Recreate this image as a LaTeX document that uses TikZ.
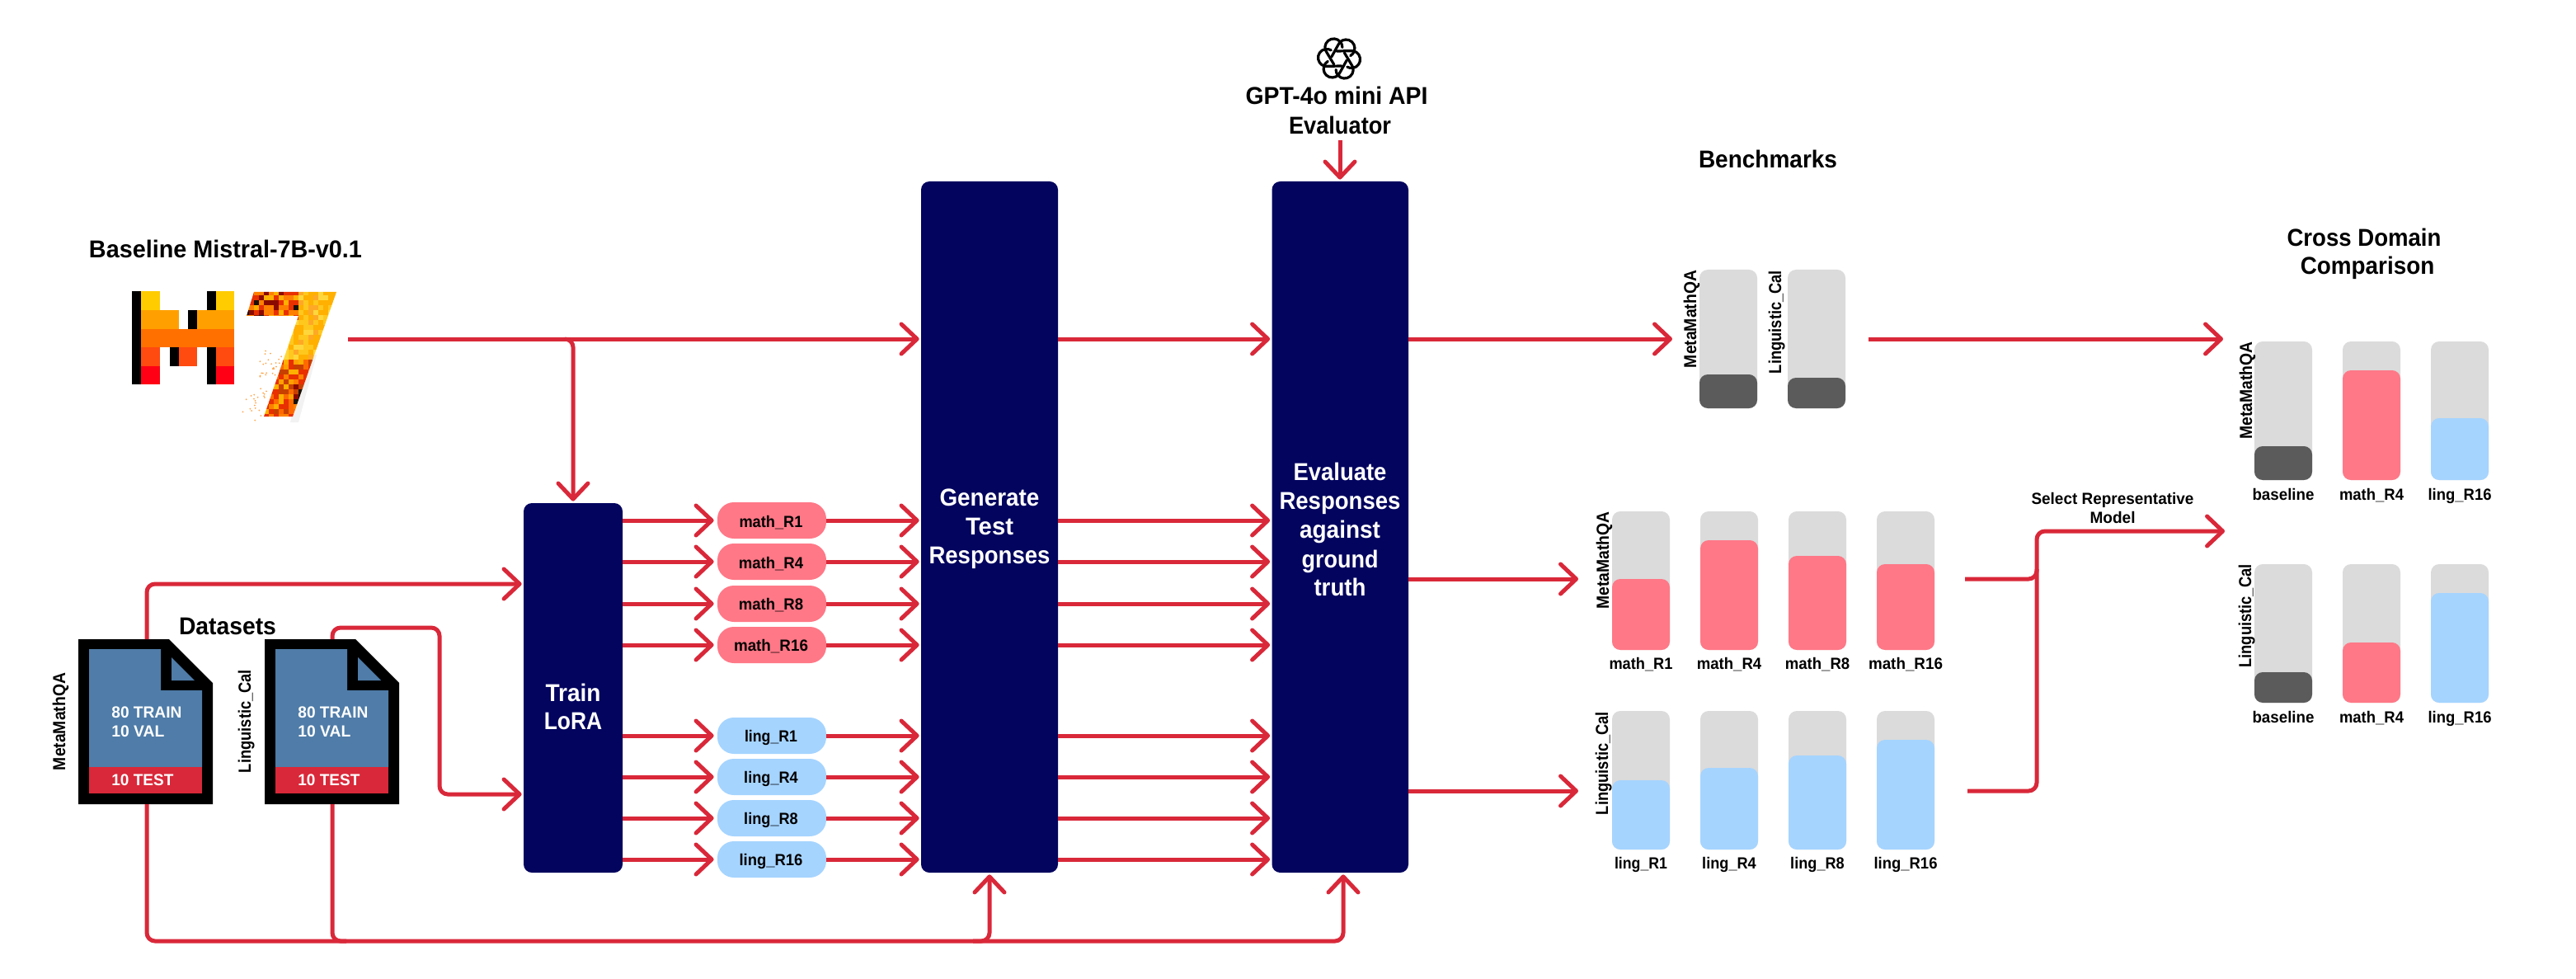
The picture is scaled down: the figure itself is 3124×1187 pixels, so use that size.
\documentclass[tikz,border=0pt]{standalone}
\usepackage{fontspec}
\usepackage{graphicx}
\setmainfont{Liberation Sans}
\usetikzlibrary{arrows.meta}
\definecolor{rd}{HTML}{D92839}
\definecolor{navy}{HTML}{03045E}
\definecolor{pinkf}{HTML}{FF7887}
\definecolor{bluef}{HTML}{A5D4FF}
\definecolor{grayb}{HTML}{DBDBDB}
\definecolor{darkb}{HTML}{5B5B5B}
\definecolor{docb}{HTML}{4F7CA8}
\definecolor{myl}{HTML}{FFCC00}
\definecolor{mor}{HTML}{FFA000}
\definecolor{mdo}{HTML}{FF7000}
\definecolor{mro}{HTML}{FF4A10}
\definecolor{mrd}{HTML}{FF0014}
\definecolor{sa}{HTML}{8B0A00}
\definecolor{sb}{HTML}{E83000}
\definecolor{sc}{HTML}{FF8000}
\definecolor{sd}{HTML}{FFB000}
\definecolor{se}{HTML}{1A1208}
\definecolor{sf}{HTML}{FFC81E}
\definecolor{sg}{HTML}{FFD73C}
\definecolor{sh}{HTML}{FFA826}
\definecolor{si}{HTML}{FF6A00}
\definecolor{sj}{HTML}{C84000}
\newdimen\pxu \pxu=0.5pt
\newcommand\fw[2]{\resizebox{#1\pxu}{\height}{#2}}
\newcommand\onebar[5]{%
  \fill[grayb,rounded corners=5pt] (#1,#2) rectangle ++(70,#3-#2);
  \fill[#5,rounded corners=5pt] (#1,#4) rectangle ++(70,#3-#4);}
\newcommand\docshape[1]{%
  \begin{scope}[shift={(#1,0)}]
    \fill[black] (95,775) -- (205,775) -- (258,828) -- (258,975) -- (95,975) -- cycle;
    \fill[docb] (108,787) -- (195,787) -- (195,837) -- (245,837) -- (245,930) -- (108,930) -- cycle;
    \fill[docb] (208,797) -- (208,825) -- (236,825) -- cycle;
    \fill[rd] (108,930) rectangle (245,962);
  \end{scope}}
\pgfmathdeclarerandomlist{sevtl}{{sa}{sb}{sc}{sd}{se}{sc}{sb}{sd}}
\pgfmathdeclarerandomlist{sevtr}{{sd}{sf}{sh}{sd}{sg}}
\pgfmathdeclarerandomlist{sevmid}{{sf}{sg}{sd}{sh}{sf}{sd}}
\pgfmathdeclarerandomlist{sevlow}{{si}{sc}{sb}{mor}{si}{sd}{sb}{sj}}
\pgfmathdeclarerandomlist{sevdark}{{se}{sj}{se}{sa}}
\tikzset{
  conn/.style={draw=rd,line width=2.5pt,rounded corners=5pt},
  arr/.style={conn,-{Straight Barb[length=9.5pt,width=18pt,line width=2.5pt,round]},shorten >=1pt},
  procbox/.style={fill=navy,rounded corners=5pt,inner sep=0pt,minimum height=224pt},
  pillm/.style={fill=pinkf,rounded corners=10pt,minimum width=66pt,minimum height=22pt,inner sep=0pt},
  pilll/.style={pillm,fill=bluef},
  head/.style={inner sep=0pt,anchor=base,font=\bfseries\fontsize{14.8}{17}\selectfont},
  inbox/.style={head,text=white},
  small/.style={inner sep=0pt,anchor=base,font=\bfseries\fontsize{9.8}{12}\selectfont},
  docnum/.style={small,anchor=base west,text=white},
  vert/.style={inner sep=0pt,anchor=base,rotate=90,font=\bfseries\fontsize{10.6}{12}\selectfont},
}
\begin{document}
\begin{tikzpicture}[x=0.5pt,y=-0.5pt]
\useasboundingbox (0,0) rectangle (3124,1187);

% process boxes
\node[procbox,minimum width=60pt] (train) at (695,834) {};
\node[procbox,minimum width=83pt,minimum height=419pt] (gen) at (1200,639) {};
\node[procbox,minimum width=82.75pt,minimum height=419pt] (eval) at (1625.25,639) {};

% model pills
\node[pillm] (m1) at (936,631) {};
\node[pillm] (m4) at (936,681) {};
\node[pillm] (m8) at (936,732) {};
\node[pillm] (m16) at (936,782) {};
\node[pilll] (l1) at (936,892) {};
\node[pilll] (l4) at (936,942) {};
\node[pilll] (l8) at (936,992) {};
\node[pilll] (l16) at (936,1042) {};
\node[small] (tm1) at (935,639) {\fw{77}{math\_R1}};
\node[small] (tm4) at (935,689) {\fw{78.5}{math\_R4}};
\node[small] (tm8) at (935,739) {\fw{78.5}{math\_R8}};
\node[small] (tm16) at (935,789) {\fw{90}{math\_R16}};
\node[small] (tl1) at (935,899) {\fw{64}{ling\_R1}};
\node[small] (tl4) at (935,949) {\fw{65.6}{ling\_R4}};
\node[small] (tl8) at (935,999) {\fw{65.6}{ling\_R8}};
\node[small] (tl16) at (935,1049) {\fw{77}{ling\_R16}};

% box texts
\node[inbox] (t1) at (695,850) {\fw{67}{Train}};
\node[inbox] (t2) at (695,884) {\fw{70.5}{LoRA}};
\node[inbox] (g1) at (1200,613) {\fw{121}{Generate}};
\node[inbox] (g2) at (1200,648) {\fw{58}{Test}};
\node[inbox] (g3) at (1200,683) {\fw{147}{Responses}};
\node[inbox] (e1) at (1625,582) {\fw{113}{Evaluate}};
\node[inbox] (e2) at (1625,617) {\fw{147}{Responses}};
\node[inbox] (e3) at (1625,652) {\fw{98}{against}};
\node[inbox] (e4) at (1625,688) {\fw{93}{ground}};
\node[inbox] (e5) at (1625,722) {\fw{63}{truth}};

% headings
\node[head] (hbase) at (273.5,313) {\fw{331}{Baseline Mistral-7B-v0.1}};
\node[head] (hdata) at (276,769) {\fw{118}{Datasets}};
\node[head] (hgpt) at (1621,127) {\fw{221}{GPT-4o mini API}};
\node[head] (hevl) at (1625,163) {\fw{124}{Evaluator}};
\node[head] (hbench) at (2144,204) {\fw{168}{Benchmarks}};
\node[head] (hcd) at (2867,299) {\fw{187}{Cross Domain}};
\node[head] (hcmp) at (2871,333) {\fw{162.5}{Comparison}};
\node[small] (sel1) at (2562,611) {\fw{197}{Select Representative}};
\node[small] (sel2) at (2562,634) {\fw{55}{Model}};

% Mistral logo: pixel M
\fill[black] (160,353.3) rectangle (171.2,466.3);
\fill[myl] (171.2,353.3) rectangle (194,376);
\fill[black] (250.6,353.3) rectangle (261.8,376);
\fill[myl] (261.8,353.3) rectangle (284,376);
\fill[mor] (171.2,376) rectangle (216.7,398.7);
\fill[black] (227.9,376) rectangle (239.4,398.7);
\fill[mor] (239.4,376) rectangle (284,398.7);
\fill[mdo] (171.2,398.7) rectangle (284,421.3);
\fill[mro] (171.2,421.3) rectangle (194,443.7);
\fill[black] (205.5,421.3) rectangle (216.7,443.7);
\fill[mro] (216.7,421.3) rectangle (239.4,443.7);
\fill[black] (250.6,421.3) rectangle (261.8,466.3);
\fill[mro] (261.8,421.3) rectangle (284,443.7);
\fill[mrd] (171.2,443.7) rectangle (194,466.3);
\fill[mrd] (261.8,443.7) rectangle (284,466.3);

% Mistral logo: pixelated 7
\fill[black,opacity=0.05] (372,430) -- (352,512) -- (362,512) -- (384,430) -- cycle;
\pgfmathsetseed{11}
\foreach \k in {1,...,45}{
  \pgfmathsetmacro\sy{425+rnd*90}
  \pgfmathsetmacro\sx{362-(\sy-383)*42/122-2-rnd*28}
  \fill[sc,opacity=0.7] (\sx,\sy) circle[radius=1];
}
\begin{scope}
  \clip (308,354) -- (408,354) -- (355,505) -- (320,505) -- (362,383) -- (299,383) -- cycle;
  \foreach \i in {0,...,18}{
    \foreach \j in {0,...,26}{
      \pgfmathtruncatemacro\px{296+6*\i}
      \pgfmathtruncatemacro\py{352+6*\j}
      \ifnum\py<383
        \ifnum\px<362 \pgfmathrandomitem{\c}{sevtl}\else \pgfmathrandomitem{\c}{sevtr}\fi
      \else
        \ifnum\py<432 \pgfmathrandomitem{\c}{sevmid}\else
          \pgfmathrandomitem{\c}{sevlow}
          \ifnum\py>464 \ifnum\py<490 \ifnum\px>350 \pgfmathrandomitem{\c}{sevdark}\fi\fi\fi
        \fi
      \fi
      \fill[\c] (\px,\py) rectangle ++(6.3,6.3);
    }
  }
\end{scope}

% OpenAI logo
\begin{scope}[shift={(1624,71)}]
  \foreach \k in {0,60,...,300}{
    \draw[black,line width=1.6pt,line cap=round,rotate=\k]
      (-3,-9) -- (13.2,-9.3) arc[start angle=-100,end angle=120,radius=10.5];
  }
\end{scope}

% dataset documents
\docshape{0}
\docshape{226}
\node[docnum] (a1) at (135,870) {\fw{85}{80 TRAIN}};
\node[docnum] (a2) at (135,893) {\fw{64}{10 VAL}};
\node[docnum] (a3) at (135,952) {\fw{75}{10 TEST}};
\node[docnum] (b1) at (361,870) {\fw{85}{80 TRAIN}};
\node[docnum] (b2) at (361,893) {\fw{64}{10 VAL}};
\node[docnum] (b3) at (361,952) {\fw{75}{10 TEST}};
\node[vert] (va) at (79,875) {\fw{118}{MetaMathQA}};
\node[vert] (vb) at (304,874.5) {\fw{125}{Linguistic\_Cal}};

% benchmark bars
\onebar{2061}{327}{495}{454}{darkb}
\onebar{2168}{327}{495}{458}{darkb}
\node[vert] (vc) at (2057,387) {\fw{118}{MetaMathQA}};
\node[vert] (vd) at (2160,390.5) {\fw{125}{Linguistic\_Cal}};

\onebar{1955}{620}{788}{702}{pinkf}
\onebar{2062}{620}{788}{655}{pinkf}
\onebar{2169}{620}{788}{674}{pinkf}
\onebar{2276}{620}{788}{684}{pinkf}
\node[vert] (ve) at (1951,679.5) {\fw{118}{MetaMathQA}};
\node[small] (la1) at (1990,811) {\fw{77}{math\_R1}};
\node[small] (la2) at (2097,811) {\fw{78.5}{math\_R4}};
\node[small] (la3) at (2204,811) {\fw{78.5}{math\_R8}};
\node[small] (la4) at (2311,811) {\fw{90}{math\_R16}};

\onebar{1955}{862}{1030}{946}{bluef}
\onebar{2062}{862}{1030}{931}{bluef}
\onebar{2169}{862}{1030}{916}{bluef}
\onebar{2276}{862}{1030}{897}{bluef}
\node[vert] (vf) at (1950,925.5) {\fw{125}{Linguistic\_Cal}};
\node[small] (lb1) at (1990,1053) {\fw{64}{ling\_R1}};
\node[small] (lb2) at (2097,1053) {\fw{65.6}{ling\_R4}};
\node[small] (lb3) at (2204,1053) {\fw{65.6}{ling\_R8}};
\node[small] (lb4) at (2311,1053) {\fw{77}{ling\_R16}};

% cross domain bars
\onebar{2734}{414}{582}{541}{darkb}
\onebar{2841}{414}{582}{449}{pinkf}
\onebar{2948}{414}{582}{507}{bluef}
\node[vert] (vg) at (2731,473.5) {\fw{118}{MetaMathQA}};
\node[small] (lc1) at (2769,606) {\fw{75}{baseline}};
\node[small] (lc2) at (2876,606) {\fw{78}{math\_R4}};
\node[small] (lc3) at (2983,606) {\fw{77}{ling\_R16}};

\onebar{2734}{684}{852}{815}{darkb}
\onebar{2841}{684}{852}{779}{pinkf}
\onebar{2948}{684}{852}{719}{bluef}
\node[vert] (vh) at (2730,747) {\fw{125}{Linguistic\_Cal}};
\node[small] (ld1) at (2769,876) {\fw{75}{baseline}};
\node[small] (ld2) at (2876,876) {\fw{78}{math\_R4}};
\node[small] (ld3) at (2983,876) {\fw{77}{ling\_R16}};

% named free ends
\coordinate (mistral) at (422,411);
\coordinate (mbranch) at (695,411);
\coordinate (d1t) at (178,775);
\coordinate (d1b) at (178,975);
\coordinate (d2t) at (403,775);
\coordinate (d2b) at (403,975);
\coordinate (gptin) at (1625,170);
\coordinate (benchin) at (2030,411);
\coordinate (benchout) at (2266,411);
\coordinate (crossin) at (2698,411);
\coordinate (mathin) at (1916,702);
\coordinate (lingin) at (1916,959);
\coordinate (mathout) at (2383,702);
\coordinate (lingout) at (2386,959);
\coordinate (selend) at (2700,644);
\coordinate (selx) at (2470,644);

% connectors
\draw[arr] (mistral) -- (gen.west |- mistral);
\draw[arr] (685,411) -- (mbranch) -- (train.north);
\draw[arr] (gen.east |- mistral) -- (eval.west |- mistral);
\draw[arr] (d1t) |- (train.west |- 0,708);
\draw[arr] (d2t) -- (403,761) -- (533,761) -- (533,963) -- (train.west |- 0,963);
\foreach \n in {m1,m4,m8,m16,l1,l4,l8,l16}{
  \draw[arr,shorten >=2pt] (train.east |- \n.west) -- (\n.west);
  \draw[arr] (\n.east) -- (gen.west |- \n.east);
  \draw[arr] (gen.east |- \n.east) -- (eval.west |- \n.east);
}
\draw[arr] (gptin) -- (eval.north -| gptin);
\draw[arr] (d1b) -- (178,1141) -- (1629,1141) -- (eval.south -| 1629,0);
\draw[conn] (d2b) -- (403,1141) -- (420,1141);
\draw[arr] (1180,1141) -- (1200,1141) -- (gen.south);
\draw[arr] (eval.east |- mistral) -- (benchin);
\draw[arr] (benchout) -- (crossin);
\draw[arr] (eval.east |- mathin) -- (mathin);
\draw[arr] (eval.east |- lingin) -- (lingin);
\draw[conn] (mathout) -- (2470,702) -- (2470,690);
\draw[arr] (lingout) -- (2470,959) -- (selx) -- (selend);
\end{tikzpicture}
\end{document}
